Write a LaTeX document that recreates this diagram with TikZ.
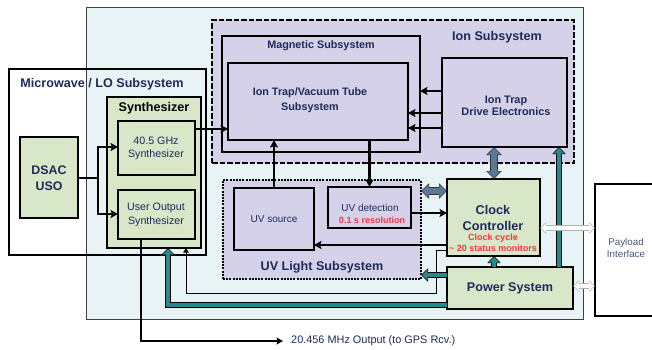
\documentclass[tikz,border=0pt]{standalone}
\usepackage{fontspec}
\setmainfont{Liberation Sans}
\usetikzlibrary{arrows.meta}
\definecolor{bgc}{HTML}{E8F3F5}
\definecolor{lav}{HTML}{D4D1E9}
\definecolor{grn}{HTML}{D7E7C7}
\definecolor{navy}{HTML}{1E2A5C}
\definecolor{tealc}{HTML}{29878D}
\definecolor{bgray}{HTML}{5B7897}
\definecolor{redc}{HTML}{EE3A43}
\newcommand\mybox[6]{\node[#6, anchor=north west, inner sep=0pt, outer sep=0pt, minimum width=#4pt-#2pt, minimum height=#5pt-#3pt] (#1) at (#2,#3) {};}
\begin{document}
\begin{tikzpicture}[x=1pt,y=-1pt,
  gbox/.style={draw=black, line width=1.4pt, fill=grn},
  lbox/.style={draw=black, line width=1.4pt, fill=lav},
  ttl/.style={font=\fontsize{12.6}{14}\selectfont\bfseries, text=navy, inner sep=0pt},
  sub/.style={font=\fontsize{10.8}{15}\selectfont\bfseries, text=navy, inner sep=0pt, align=center},
  reg/.style={font=\fontsize{10.7}{13}\selectfont, text=navy, inner sep=0pt, align=center},
  redt/.style={font=\fontsize{9}{11}\selectfont\bfseries, text=redc, inner sep=0pt, align=center},
  thk/.style={line width=2.3pt},
  thkar/.style={line width=2.3pt, -{Stealth[length=7.5pt,width=8pt,inset=1.5pt]}},
  thinar/.style={line width=1pt, -{Triangle[length=4.5pt,width=5.5pt]}},
  tealar/.style={draw=tealc, line width=4.5pt, -{Triangle[length=5.6pt,width=10.6pt]}, shorten >=1pt,
     preaction={draw=black, line width=6.5pt, shorten >=0pt, -{Triangle[length=7pt,width=13pt]}}},
  bgar/.style={draw=bgray, line width=5.5pt, {Triangle[length=6.6pt,width=12.4pt]}-{Triangle[length=6.6pt,width=12.4pt]}, shorten >=1pt, shorten <=1pt,
     preaction={draw=black!80, line width=7.5pt, shorten >=0pt, shorten <=0pt, {Triangle[length=8pt,width=15pt]}-{Triangle[length=8pt,width=15pt]}}},
  grar/.style={draw=white, line width=3.5pt, {Triangle[length=4.8pt,width=8.6pt]}-{Triangle[length=4.8pt,width=8.6pt]}, shorten >=1pt, shorten <=1pt,
     preaction={draw=black!30, line width=5.5pt, shorten >=0pt, shorten <=0pt, {Triangle[length=6pt,width=11pt]}-{Triangle[length=6pt,width=11pt]}}}
]
\useasboundingbox (0,0) rectangle (652,349);
% containers
\mybox{bg}{86}{7}{583}{319}{draw=black!75, line width=1pt, fill=bgc}
\mybox{mw}{9}{69}{206}{255}{draw=black, line width=1.2pt}
\mybox{synth}{107}{97}{201}{248}{gbox}
\mybox{g40}{118}{121}{195}{175}{gbox}
\mybox{uos}{118}{190}{195}{239}{gbox}
\mybox{dsac}{20}{137}{78}{218}{gbox}
\mybox{ion}{212}{20}{574}{163}{draw=black, line width=2.2pt, fill=lav, dash pattern=on 5.5pt off 2pt}
\mybox{mag}{222}{36}{420}{152}{lbox}
\mybox{itv}{228}{63}{408}{140}{lbox}
\mybox{drv}{442}{58}{567}{147}{lbox}
\mybox{uvl}{223}{180}{421}{279}{draw=black, line width=2.6pt, fill=lav, dash pattern=on 2pt off 1.2pt}
\mybox{uvs}{234}{188}{314}{250}{lbox}
\mybox{uvd}{328}{187}{411}{228}{lbox}
\mybox{clk}{447}{179}{540}{256}{gbox}
\mybox{pwr}{447}{267}{573}{309}{gbox}
\mybox{pay}{595}{184}{670}{316}{draw=black, line width=1.2pt, fill=white}
% texts
\node[ttl] (mwT) at (102,84) {Microwave / LO Subsystem};
\node[ttl, text=black] (synT) at (154,108) {Synthesizer};
\node[reg] (g40T) at (156,148) {40.5 GHz\\Synthesizer};
\node[reg, font=\fontsize{10.7}{14}\selectfont] (uosT) at (156,215) {User Output\\Synthesizer};
\node[ttl, align=center, font=\fontsize{12.4}{16}\selectfont\bfseries] (dsacT) at (49,178) {DSAC\\USO};
\node[sub] (magT) at (321,46) {Magnetic Subsystem};
\node[sub] (itvT) at (310,100) {Ion Trap/Vacuum Tube\\Subsystem};
\node[ttl] (ionT) at (497,37) {Ion Subsystem};
\node[sub, font=\fontsize{10.9}{12}\selectfont\bfseries] (drvT) at (506,106) {Ion Trap\\Drive Electronics};
\node[ttl] (uvlT) at (322,267) {UV Light Subsystem};
\node[reg, font=\fontsize{10}{12}\selectfont] (uvsT) at (274,219) {UV source};
\node[reg, font=\fontsize{10}{12}\selectfont] (uvdT) at (370,208) {UV detection};
\node[redt] (uvdR) at (372,220) {0.1 s resolution};
\node[ttl, align=center, font=\fontsize{12.7}{16}\selectfont\bfseries] (clkT) at (493,218) {Clock\\Controller};
\node[redt] (clkR) at (493,242.5) {Clock cycle\\\textasciitilde\ 20 status monitors};
\node[ttl] (pwrT) at (510,288) {Power System};
\node[reg, font=\fontsize{9.8}{12}\selectfont, text=navy!80] (payT) at (626,248) {Payload\\Interface};
\node[reg, anchor=west, font=\fontsize{10.9}{13}\selectfont, inner xsep=8pt] (gps) at (283,341) {20.456 MHz Output (to GPS Rcv.)};
% black connectors
\coordinate (dj) at (98,178);
\draw[thk] (dsac.east |- dj) -- (dj);
\draw[thkar] (dj) |- (g40.west |- 0,147);
\draw[thkar] (dj) |- (uos.west |- 0,214);
\draw[thkar] (g40.east |- 0,129) -- (itv.west |- 0,129);
\draw[thkar] (drv.west |- 0,91) -- (mag.east |- 0,91);
\draw[thkar] (drv.west |- 0,113) -- (itv.east |- 0,113);
\draw[thkar] (drv.west |- 0,128) -- (itv.east |- 0,128);
\draw[thkar] (uvs.north) -- (itv.south -| uvs.north);
\draw[thkar] (itv.south -| uvd.north) -- (uvd.north);
\draw[thkar] (uvd.east |- 0,213) -- (clk.west |- 0,213);
\draw[thkar] (clk.west |- 0,245) -- (uvs.east |- 0,245);
\draw[thinar] (clk.west |- 0,250) -| (436,293) -| (synth.south -| 186,0);
\draw[line width=1.5pt, -{Stealth[length=6.5pt,width=7pt,inset=1.2pt]}] (uos.south -| 141,0) |- (gps.west);
% fat arrows
\draw[bgar] (uvl.east |- 0,191) -- (clk.west |- 0,191);
\draw[bgar] (drv.south -| 494,0) -- (clk.north -| 494,0);
\draw[tealar] (pwr.north -| 559,0) -- (drv.south -| 559,0);
\draw[tealar] (pwr.north -| 494,0) -- (clk.south -| 494,0);
\draw[tealar] (pwr.west |- 0,275) -- (uvl.east |- 0,275);
\draw[tealar] (pwr.west |- 0,305) -| (synth.south -| 168,0);
\draw[grar] (clk.east |- 0,228) -- (pay.west |- 0,228);
\draw[grar] (pwr.east |- 0,286) -- (pay.west |- 0,286);
\end{tikzpicture}
\end{document}
